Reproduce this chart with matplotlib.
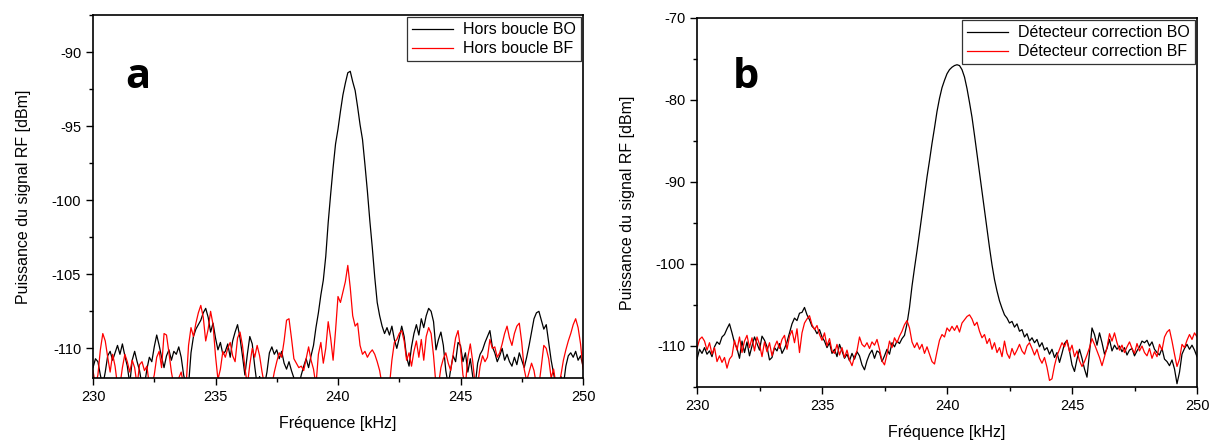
import numpy as np
import matplotlib
matplotlib.use("Agg")
import matplotlib.pyplot as plt
from matplotlib.ticker import MultipleLocator

# ---------------- data ----------------
freq_khz = np.round(np.arange(230.0, 250.0001, 0.1), 1)

hors_boucle_bo = [
    -111.3, -110.7, -110.9, -111.8, -112.5, -111.6, -110.5, -110.2, -110.8, -110.3,
    -109.8, -110.4, -109.7, -110.5, -111.2, -112.4, -110.8, -110.2, -110.9, -111.5,
    -112.5, -112.5, -111.4, -110.6, -110.9, -109.9, -109.1, -109.8, -110.6, -111.3,
    -110.5, -110.1, -110.8, -110.2, -110.4, -109.9, -110.6, -111.8, -112.5, -112.5,
    -110.3, -109.2, -108.7, -108.4, -108.1, -107.6, -107.3, -107.9, -108.9, -108.3,
    -109.3, -110.1, -109.6, -110.4, -110.2, -109.7, -110.6, -109.5, -108.9, -108.4,
    -109.3, -110.5, -111.8, -110.4, -109.2, -109.7, -111.2, -112.5, -111.9, -112.5,
    -112.5, -111.6, -110.3, -109.9, -110.4, -110.1, -110.7, -110.2, -111.0, -111.4,
    -110.9, -111.5, -112.0, -112.5, -112.5, -111.8, -111.2, -110.7, -111.3, -110.5,
    -109.8, -108.6, -107.6, -106.4, -105.4, -103.8, -101.5, -99.6, -97.8, -96.2,
    -95.2, -94.0, -92.9, -92.1, -91.4, -91.3, -92.0, -92.6, -93.7, -94.9,
    -95.9, -97.6, -99.4, -101.4, -103.2, -105.2, -106.9, -107.8, -108.5, -109.0,
    -108.6, -109.1, -108.5, -109.4, -110.0, -109.3, -108.5, -109.2, -110.6, -111.2,
    -109.9, -109.0, -108.4, -109.1, -108.0, -108.6, -107.8, -107.3, -107.5, -108.2,
    -110.1, -109.4, -108.9, -109.8, -111.5, -112.5, -111.4, -110.5, -110.9, -109.6,
    -109.8, -110.9, -110.3, -111.6, -110.7, -111.9, -112.5, -111.0, -110.4, -110.1,
    -109.6, -109.2, -108.8, -109.9, -110.3, -110.9, -110.5, -110.0, -110.8, -110.4,
    -110.9, -111.2, -110.6, -111.1, -110.3, -110.8, -111.3, -110.6, -109.8, -108.9,
    -108.0, -107.6, -107.5, -108.1, -108.7, -108.4, -109.6, -110.8, -111.7, -112.5,
    -112.5, -111.9, -112.5, -111.2, -110.5, -110.3, -110.6, -110.2, -110.8, -110.5,
    -111.2,
]

hors_boucle_bf = [
    -111.5, -112.5, -111.8, -110.1, -109.0, -109.5, -110.6, -111.6, -110.4, -111.2,
    -112.5, -112.5, -111.3, -110.4, -110.9, -111.6, -110.8, -111.3, -112.5, -111.1,
    -110.9, -111.5, -111.2, -112.5, -112.5, -111.8, -110.6, -110.2, -111.3, -109.0,
    -109.1, -110.3, -111.6, -112.5, -112.5, -112.0, -111.6, -112.5, -112.5, -109.8,
    -108.6, -109.2, -108.3, -107.6, -107.1, -107.9, -109.5, -108.7, -107.5, -108.4,
    -110.5, -112.1, -111.4, -110.2, -110.6, -110.0, -109.6, -110.5, -110.9, -109.3,
    -108.9, -109.8, -111.3, -112.5, -111.1, -110.0, -110.6, -109.8, -110.5, -111.6,
    -112.5, -112.3, -112.5, -112.5, -111.6, -110.9, -110.3, -110.6, -109.5, -108.1,
    -108.0, -109.3, -110.7, -111.0, -111.3, -111.2, -111.5, -110.7, -109.9, -110.8,
    -111.4, -112.5, -110.4, -109.6, -111.0, -110.0, -108.2, -109.3, -110.8, -108.8,
    -106.5, -106.9, -106.2, -105.5, -104.4, -105.9, -107.8, -108.5, -108.3, -109.8,
    -110.4, -110.2, -110.6, -110.3, -110.1, -110.4, -110.9, -111.5, -112.5, -112.5,
    -112.5, -112.5, -110.8, -109.6, -109.4, -109.0, -108.8, -109.5, -110.8, -110.3,
    -111.2, -110.2, -109.5, -110.6, -109.4, -110.8, -109.2, -108.6, -109.0, -110.5,
    -112.5, -112.5, -111.3, -110.7, -110.3, -111.0, -111.5, -110.4, -109.3, -108.8,
    -110.0, -111.8, -112.5, -110.6, -109.7, -110.9, -112.5, -112.5, -111.2, -110.5,
    -110.9, -110.6, -109.4, -110.0, -109.9, -110.6, -110.3, -109.7, -109.0, -108.5,
    -109.3, -109.8, -109.0, -108.5, -108.3, -109.6, -111.4, -112.2, -111.6, -111.0,
    -111.5, -112.5, -112.5, -111.2, -109.8, -110.0, -110.7, -112.0, -111.4, -112.5,
    -112.5, -111.8, -110.8, -110.1, -109.5, -109.0, -108.4, -108.0, -108.6, -109.7,
    -111.4,
]

detecteur_bo = [
    -111.6, -110.4, -110.9, -110.2, -111.0, -110.6, -111.3, -110.1, -109.5, -109.8,
    -108.9, -108.6, -107.9, -107.3, -108.4, -109.6, -110.3, -111.5, -109.4, -110.8,
    -109.5, -111.2, -110.0, -108.9, -109.7, -110.5, -108.8, -109.3, -110.1, -111.7,
    -111.4, -110.2, -110.6, -109.7, -110.9, -110.3, -109.5, -108.4, -107.3, -106.6,
    -106.9, -106.0, -105.9, -105.3, -106.2, -106.8, -107.6, -107.9, -108.5, -108.0,
    -108.9, -109.4, -110.2, -109.6, -110.9, -110.4, -111.3, -109.8, -110.6, -111.5,
    -111.0, -111.8, -110.9, -111.6, -110.7, -111.2, -112.3, -112.9, -111.8, -111.0,
    -110.5, -111.5, -110.6, -110.8, -111.9, -111.2, -110.4, -111.0, -109.6, -110.1,
    -109.4, -109.7, -109.1, -108.7, -107.3, -105.3, -102.7, -100.5, -98.4, -96.2,
    -93.9, -91.6, -89.4, -87.4, -85.3, -83.4, -81.4, -79.8, -78.5, -77.6,
    -76.8, -76.3, -76.0, -75.8, -75.7, -75.8, -76.3, -77.2, -78.6, -80.3,
    -82.1, -84.3, -86.6, -88.9, -91.2, -93.6, -95.8, -98.0, -100.1, -101.9,
    -103.3, -104.5, -105.4, -106.2, -106.6, -107.2, -107.0, -107.7, -107.3, -108.2,
    -108.0, -108.9, -108.5, -109.4, -109.0, -109.6, -109.2, -110.1, -109.6, -110.5,
    -110.2, -111.0, -110.4, -111.4, -110.8, -112.0, -110.9, -109.7, -109.3, -110.6,
    -112.3, -113.1, -111.6, -110.4, -111.5, -112.8, -113.8, -110.8, -107.8, -108.6,
    -109.9, -108.4, -109.6, -111.0, -110.3, -109.2, -110.6, -109.9, -110.4, -110.0,
    -110.7, -110.2, -111.1, -110.5, -110.3, -111.2, -110.6, -110.1, -109.4, -109.6,
    -109.3, -110.0, -109.5, -110.4, -110.8, -111.1, -110.3, -111.6, -111.9, -112.4,
    -111.7, -112.8, -114.6, -113.2, -111.0, -110.3, -109.8, -110.4, -109.9, -110.5,
    -111.3,
]

detecteur_bf = [
    -110.3, -109.2, -108.9, -109.4, -110.5, -109.6, -111.0, -110.2, -111.9, -111.2,
    -112.0, -111.4, -112.7, -111.6, -111.2, -109.3, -110.5, -108.9, -110.8, -109.4,
    -108.7, -110.2, -109.0, -110.6, -108.9, -109.8, -111.3, -109.5, -110.7, -109.6,
    -111.2, -110.1, -109.4, -110.3, -109.2, -108.7, -110.4, -108.8, -108.1, -109.6,
    -107.9, -110.8, -108.4, -107.2, -106.7, -106.3, -107.4, -108.0, -107.5, -108.6,
    -109.3, -108.4, -110.0, -109.1, -110.6, -110.9, -109.8, -111.1, -110.2, -111.4,
    -110.5, -111.7, -112.4, -111.3, -110.6, -108.9, -109.8, -110.1, -109.6, -110.3,
    -109.5, -109.9, -109.2, -110.4, -111.8, -112.3, -111.0, -109.4, -110.2, -109.0,
    -109.6, -108.8, -108.2, -107.4, -106.9, -107.8, -109.5, -110.2, -109.6, -110.4,
    -109.8, -110.9, -110.1, -111.0, -111.9, -112.2, -110.7, -109.3, -108.6, -108.9,
    -107.8, -108.2, -107.6, -108.1, -107.5, -108.3, -107.2, -106.8, -106.4, -106.2,
    -106.7, -107.5, -107.1, -108.2, -109.0, -108.6, -109.7, -109.1, -110.4, -109.6,
    -110.8, -110.2, -111.3, -109.4, -110.9, -111.5, -110.3, -111.1, -110.5, -109.8,
    -110.6, -111.0, -110.0, -109.6, -110.3, -111.1, -110.4, -111.5, -112.1, -111.4,
    -112.6, -114.2, -114.0, -112.4, -111.2, -110.4, -109.6, -110.1, -109.3, -110.7,
    -109.9, -111.3, -110.6, -111.8, -112.5, -111.9, -111.1, -110.2, -109.1, -109.8,
    -110.6, -111.4, -112.4, -111.3, -110.2, -108.5, -109.4, -108.4, -109.6, -110.5,
    -109.9, -110.8, -110.1, -109.5, -110.3, -110.9, -109.7, -110.6, -110.0, -110.8,
    -111.2, -110.3, -111.5, -110.7, -111.3, -109.8, -110.5, -108.9, -108.3, -108.0,
    -109.4, -111.0, -112.5, -111.6, -109.8, -110.2, -109.3, -108.6, -109.2, -108.4,
    -108.9,
]

x_ticks = [230, 235, 240, 245, 250]
left_labels = ["Hors boucle BO", "Hors boucle BF"]
right_labels = ["Détecteur correction BO", "Détecteur correction BF"]
y_label = "Puissance du signal RF [dBm]"
x_label = "Fréquence [kHz]"

# ---------------- style ----------------
plt.rcParams["font.family"] = ["Liberation Sans", "DejaVu Sans"]
plt.rcParams["axes.unicode_minus"] = False
W, H = 1210, 441
fig = plt.figure(figsize=(W / 100, H / 100), dpi=100)


def px_axes(x0, x1, y0, y1):
    return fig.add_axes([x0 / W, 1 - y1 / H, (x1 - x0) / W, (y1 - y0) / H])


def style(ax, ymin, ymax, ymaj):
    ax.set_xlim(230, 250)
    ax.set_ylim(ymin, ymax)
    ax.set_xticks(x_ticks)
    ax.xaxis.set_minor_locator(MultipleLocator(2.5))
    ax.yaxis.set_major_locator(MultipleLocator(ymaj))
    ax.yaxis.set_minor_locator(MultipleLocator(ymaj / 2))
    ax.tick_params(which="both", direction="out", top=False, right=False,
                   width=1.0, labelsize=10.5, colors="black")
    ax.tick_params(which="major", length=5)
    ax.tick_params(which="minor", length=3)
    for s in ax.spines.values():
        s.set_linewidth(1.2)
    ax.set_xlabel(x_label, fontsize=11.5, labelpad=9)
    ax.set_ylabel(y_label, fontsize=11.5, labelpad=15)


# left panel
axa = px_axes(93, 583, 15, 378)
axa.plot(freq_khz, hors_boucle_bo, color="black", lw=0.9, label=left_labels[0])
axa.plot(freq_khz, hors_boucle_bf, color="#ff0000", lw=0.9, label=left_labels[1])
style(axa, -112.0, -87.5, 5)
axa.text(0.065, 0.80, "a", transform=axa.transAxes, fontsize=30,
         fontweight="bold", family="Open Sans", va="baseline", ha="left")
lg = axa.legend(loc="upper right", bbox_to_anchor=(1.0, 1.0), borderaxespad=0.15,
                fontsize=11.5, fancybox=False, framealpha=1, edgecolor="#333333",
                handlelength=2.6, labelspacing=0.25, borderpad=0.3,
                handletextpad=0.6)
lg.get_frame().set_linewidth(0.9)

# right panel
axb = px_axes(697, 1197, 18, 387)
axb.plot(freq_khz, detecteur_bo, color="black", lw=0.9, label=right_labels[0])
axb.plot(freq_khz, detecteur_bf, color="#ff0000", lw=0.9, label=right_labels[1])
style(axb, -115.0, -70.0, 10)
axb.text(0.072, 0.81, "b", transform=axb.transAxes, fontsize=30,
         fontweight="bold", family="Open Sans", va="baseline", ha="left")
lg = axb.legend(loc="upper right", bbox_to_anchor=(1.0, 1.0), borderaxespad=0.15,
                fontsize=11.5, fancybox=False, framealpha=1, edgecolor="#333333",
                handlelength=2.6, labelspacing=0.25, borderpad=0.3,
                handletextpad=0.6)
lg.get_frame().set_linewidth(0.9)

fig.savefig("out.png", dpi=100, facecolor="white")
